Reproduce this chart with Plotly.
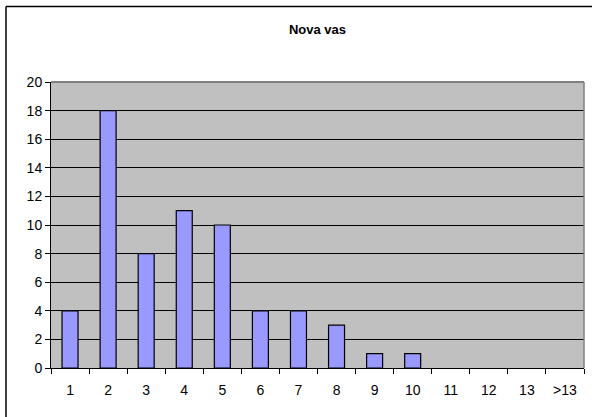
import plotly.graph_objects as go

categories = ["1", "2", "3", "4", "5", "6", "7", "8", "9", "10", "11", "12", "13", ">13"]
values = [4, 18, 8, 11, 10, 4, 4, 3, 1, 1, 0, 0, 0, 0]
y_ticks = [0, 2, 4, 6, 8, 10, 12, 14, 16, 18, 20]

W, H = 592, 417
L, R, T, B = 51, 8, 82, 49
pw, ph = W - L - R, H - T - B

def px(x):
    return (x - L) / pw

def py(y):
    return (H - B - y) / ph

fig = go.Figure(go.Bar(
    x=categories, y=values,
    marker=dict(color="#9999FF",
                line=dict(color="black", width=[1.2 if v > 0 else 0 for v in values])),
    width=0.42,
))

fig.update_layout(
    width=W, height=H,
    margin=dict(l=L, r=R, t=T, b=B),
    paper_bgcolor="white",
    plot_bgcolor="#C0C0C0",
    showlegend=False,
    font=dict(family="Liberation Sans, Arial", size=14, color="black"),
    title=dict(text="<b>Nova vas</b>", x=0.5, xref="paper", xanchor="center",
               y=1 - 29 / H, yanchor="middle", font=dict(size=13)),
    xaxis=dict(
        type="category", tickson="boundaries", ticks="outside", ticklen=5,
        tickcolor="black", tickwidth=1, showline=True, linecolor="black",
        linewidth=1, showgrid=False, range=[-0.5, 13.5], fixedrange=True,
        tickfont=dict(size=14), ticklabelstandoff=9,
    ),
    yaxis=dict(
        range=[0, 20], tickvals=y_ticks, ticks="outside", ticklen=5,
        tickcolor="black", showline=True, linecolor="black", linewidth=1,
        showgrid=True, gridcolor="black", gridwidth=1, zeroline=False,
        tickfont=dict(size=14), fixedrange=True,
    ),
    shapes=[
        dict(type="line", xref="paper", yref="paper", x0=0, x1=1, y0=1, y1=1,
             line=dict(color="#808080", width=2)),
        dict(type="line", xref="paper", yref="paper", x0=1, x1=1, y0=0, y1=1,
             line=dict(color="#808080", width=1.5)),
        dict(type="line", xref="paper", yref="paper",
             x0=px(6), x1=px(620), y0=py(6.5), y1=py(6.5),
             line=dict(color="black", width=1.5), layer="above"),
        dict(type="line", xref="paper", yref="paper",
             x0=px(6), x1=px(6), y0=py(6.5), y1=py(440),
             line=dict(color="black", width=1.5), layer="above"),
    ],
)

fig.write_html("out.html", config={"displayModeBar": False},
               post_script="document.body.style.margin='0';document.body.style.overflow='hidden';")
